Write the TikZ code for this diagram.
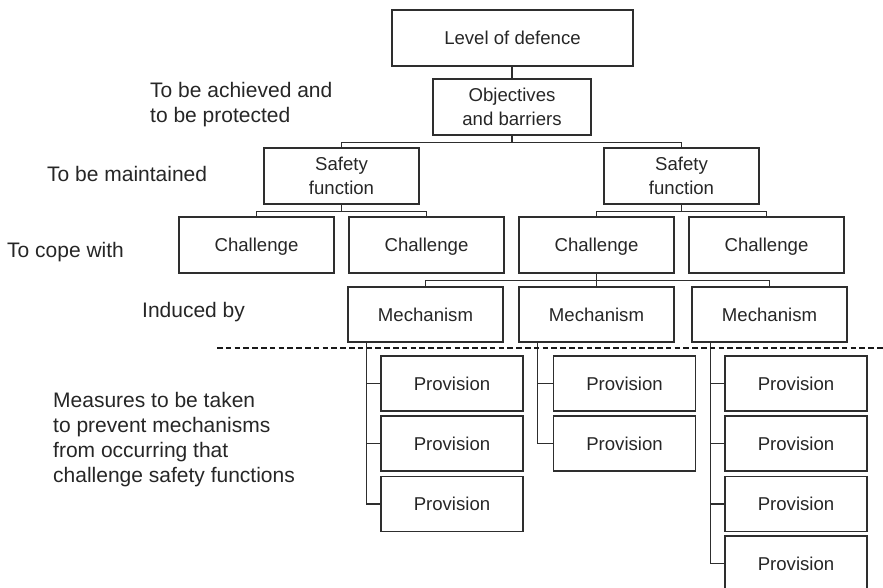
\documentclass[tikz,border=0pt]{standalone}
\usepackage{fontspec}
\setmainfont{Liberation Sans}
\begin{document}
\begin{tikzpicture}[x=1pt,y=-1pt,
  box/.style={draw=black!82, line width=1.2pt, text=black!85, inner sep=0pt,
    minimum width=155pt, minimum height=56pt, align=center,
    font=\fontsize{18.6}{23.3}\selectfont},
  oneline/.style={box, text height=13.3pt, text depth=0pt},
  prov/.style={oneline, minimum width=142pt, minimum height=55pt},
  link/.style={draw=black!82, line width=1.3pt},
  note/.style={text=black!85, inner sep=0pt, anchor=base west, align=left,
    font=\fontsize{21}{25}\selectfont},
  divider/.style={draw=black!90, line width=1.9pt, dash pattern=on 5.6pt off 3.2pt}]
\useasboundingbox (0,0) rectangle (883,588);

% hierarchy boxes
\node[oneline, minimum width=241pt] (lod) at (512.5,38) {Level of defence};
\node[box, minimum width=158pt] (obj) at (512,107) {Objectives\\and barriers};
\node[box] (sf1) at (341.5,176) {Safety\\function};
\node[box] (sf2) at (681.5,176) {Safety\\function};
\node[oneline] (ch1) at (256.5,245) {Challenge};
\node[oneline] (ch2) at (426.5,245) {Challenge};
\node[oneline] (ch3) at (596.5,245) {Challenge};
\node[oneline] (ch4) at (766.5,245) {Challenge};
\node[oneline, minimum height=55pt] (m1) at (425.5,314.5) {Mechanism};
\node[oneline, minimum height=55pt] (m2) at (596.5,314.5) {Mechanism};
\node[oneline, minimum height=55pt] (m3) at (769.5,314.5) {Mechanism};

% provisions
\node[prov] (p11) at (452,383.5) {Provision};
\node[prov] (p12) at (452,443.5) {Provision};
\node[prov] (p13) at (452,504) {Provision};
\node[prov] (p21) at (624.5,383.5) {Provision};
\node[prov] (p22) at (624.5,443.5) {Provision};
\node[prov] (p31) at (796,383.5) {Provision};
\node[prov] (p32) at (796,443.5) {Provision};
\node[prov] (p33) at (796,504) {Provision};
\node[prov] (p34) at (796,563.5) {Provision};

% tree connectors
\draw[link] (obj.north) -- (obj.north |- lod.south);
\draw[link] (obj.south) -- ++(0,7) coordinate (fa);
\draw[link] (sf1.north) |- (fa) -| (sf2.north);
\draw[link] (sf1.south) -- ++(0,7) coordinate (fb);
\draw[link] (ch1.north) |- (fb) -| (ch2.north);
\draw[link] (sf2.south) -- ++(0,7) coordinate (fc);
\draw[link] (ch3.north) |- (fc) -| (ch4.north);
\draw[link] (ch3.south) -- ++(0,7) coordinate (fd);
\draw[link] (m1.north) |- (fd) -| (m3.north);
\draw[link] (fd) -- (m2.north);

% provision rails
\coordinate (t1) at ([xshift=19pt]m1.south west);
\coordinate (t2) at ([xshift=19pt]m2.south west);
\coordinate (t3) at ([xshift=19pt]m3.south west);
\draw[link] (t1) |- (p13.west);
\draw[link] (p11.west) -- (p11.west -| t1);
\draw[link] (p12.west) -- (p12.west -| t1);
\draw[link] (t2) |- (p22.west);
\draw[link] (p21.west) -- (p21.west -| t2);
\draw[link] (t3) |- (p34.west);
\draw[link] (p31.west) -- (p31.west -| t3);
\draw[link] (p32.west) -- (p32.west -| t3);
\draw[link] (p33.west) -- (p33.west -| t3);

% divider
\coordinate (dl) at (217,348);
\coordinate (dr) at (883,348);
\draw[divider] (dl) -- (dr);

% level annotations (anchored on the last baseline)
\node[note] (n1) at (150,123) {To be achieved and\\to be protected};
\node[note] (n2) at (47,182) {To be maintained};
\node[note] (n3) at (7,257) {To cope with};
\node[note] (n4) at (142,317) {Induced by};
\node[note] (n5) at (53,482) {Measures to be taken\\to prevent mechanisms\\from occurring that\\challenge safety functions};
\end{tikzpicture}
\end{document}
